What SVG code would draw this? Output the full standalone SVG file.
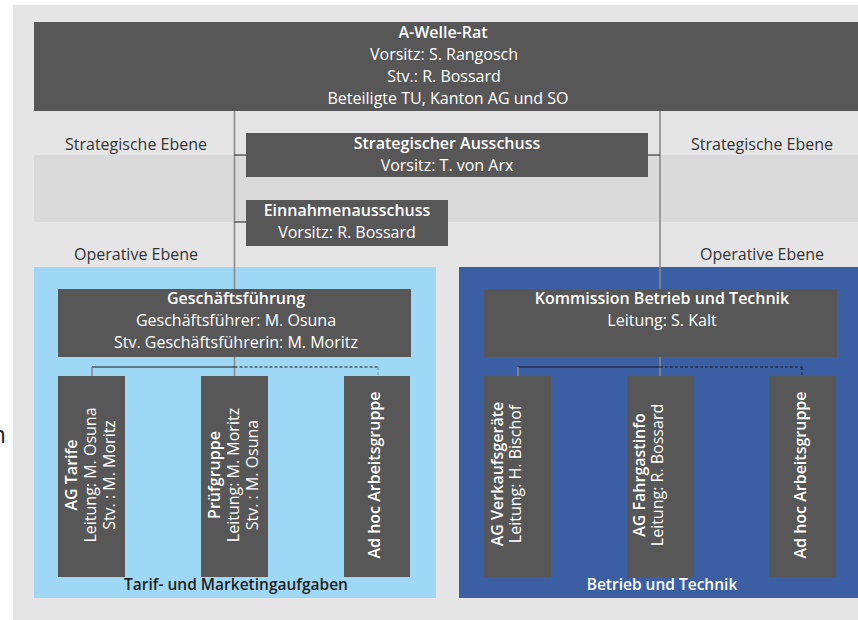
<svg xmlns="http://www.w3.org/2000/svg" width="858" height="620" viewBox="0 0 858 620">
<style>
text{font-family:"Open Sans","Noto Sans","DejaVu Sans",sans-serif;font-size:16px}
.w{fill:#ffffff}
.b{font-weight:600}
.lbl{fill:#333333;text-anchor:middle}
.box{fill:#575757}
.c{text-anchor:middle}
.vl{stroke:#8a8a8a;stroke-width:1.6;fill:none}
.hl{stroke:#1a1a1a;stroke-width:1;fill:none}
.dl{stroke:#1a1a1a;stroke-width:1;fill:none;stroke-dasharray:3 2}
</style>
<rect x="0" y="0" width="858" height="620" fill="#ffffff"/>
<rect x="13" y="5" width="845" height="615" fill="#e5e5e5"/>
<rect x="34" y="155" width="824" height="67" fill="#dadada"/>
<text x="6" y="443" style="font-size:24px;text-anchor:end" fill="#222222">n</text>

<g id="levels">
<text class="lbl" x="136" y="150">Strategische Ebene</text>
<text class="lbl" x="762" y="150">Strategische Ebene</text>
<text class="lbl" x="136" y="260">Operative Ebene</text>
<text class="lbl" x="762" y="260">Operative Ebene</text>
</g>

<g id="panel-tarif">
<rect x="34" y="267" width="402" height="331" fill="#9fd8f4"/>
<text class="c b" x="236" y="590" fill="#222222" style="font-size:15.5px">Tarif- und Marketingaufgaben</text>
</g>
<g id="panel-betrieb">
<rect x="459" y="267" width="399" height="331" fill="#3b5fa2"/>
<text class="c b w" x="662" y="590" style="font-size:15.5px">Betrieb und Technik</text>
</g>

<g id="connectors">
<line class="vl" x1="234.5" y1="111" x2="234.5" y2="289"/>
<line class="vl" x1="660" y1="111" x2="660" y2="289"/>
<line class="hl" x1="234.5" y1="155" x2="246" y2="155"/>
<line class="hl" x1="648" y1="155" x2="660" y2="155"/>
<line class="hl" x1="234.5" y1="222" x2="246" y2="222"/>
<line class="vl" x1="234.5" y1="357" x2="234.5" y2="376"/>
<line class="hl" x1="92" y1="367" x2="234.5" y2="367"/>
<line class="dl" x1="234.5" y1="367" x2="378" y2="367"/>
<line class="vl" x1="92" y1="367" x2="92" y2="376"/>
<line class="dl" x1="378" y1="367" x2="378" y2="376" style="stroke:#6a8aa0"/>
<line class="vl" x1="660" y1="357" x2="660" y2="376"/>
<line class="hl" x1="518" y1="367" x2="660" y2="367"/>
<line class="dl" x1="660" y1="367" x2="802" y2="367"/>
<line class="vl" x1="518" y1="367" x2="518" y2="376"/>
<line class="dl" x1="802" y1="367" x2="802" y2="376"/>
</g>

<g id="rat">
<rect class="box" x="34" y="22" width="824" height="89"/>
<text class="c w b" x="443" y="38">A-Welle-Rat</text>
<text class="c w" x="444" y="60">Vorsitz: S. Rangosch</text>
<text class="c w" x="444" y="82">Stv.: R. Bossard</text>
<text class="c w" x="448" y="104">Beteiligte TU, Kanton AG und SO</text>
</g>

<g id="strat-ausschuss">
<rect class="box" x="246" y="133" width="402" height="44"/>
<text class="c w b" x="447" y="149">Strategischer Ausschuss</text>
<text class="c w" x="447" y="171">Vorsitz: T. von Arx</text>
</g>

<g id="einnahmen">
<rect class="box" x="246" y="200" width="202" height="46"/>
<text class="c w b" x="347" y="216">Einnahmenausschuss</text>
<text class="c w" x="347" y="238">Vorsitz: R. Bossard</text>
</g>

<g id="gf">
<rect class="box" x="58" y="289" width="353" height="68"/>
<text class="c w b" x="236" y="304">Geschäftsführung</text>
<text class="c w" x="236" y="326">Geschäftsführer: M. Osuna</text>
<text class="c w" x="236" y="348">Stv. Geschäftsführerin: M. Moritz</text>
</g>

<g id="kbt">
<rect class="box" x="484" y="289" width="353" height="68"/>
<text class="c w b" x="662" y="304">Kommission Betrieb und Technik</text>
<text class="c w" x="662" y="326">Leitung: S. Kalt</text>
</g>

<g id="ag-tarife">
<rect class="box" x="58" y="376" width="67" height="201"/>
<g transform="translate(91.5,475) rotate(-90)">
<text class="c w b" x="0" y="-14.5">AG Tarife</text>
<text class="c w" x="0" y="4.5">Leitung: M. Osuna</text>
<text class="c w" x="0" y="23.5">Stv. : M. Moritz</text>
</g>
</g>

<g id="pruefgruppe">
<rect class="box" x="201" y="376" width="67" height="201"/>
<g transform="translate(234.5,475) rotate(-90)">
<text class="c w b" x="0" y="-14.5">Prüfgruppe</text>
<text class="c w" x="0" y="4.5">Leitung: M. Moritz</text>
<text class="c w" x="0" y="23.5">Stv. : M. Osuna</text>
</g>
</g>

<g id="adhoc-tarif">
<rect class="box" x="344" y="376" width="66" height="201"/>
<g transform="translate(377,475) rotate(-90)">
<text class="c w b" x="0" y="3">Ad hoc Arbeitsgruppe</text>
</g>
</g>

<g id="ag-verkauf">
<rect class="box" x="484" y="376" width="67" height="201"/>
<g transform="translate(517.5,474) rotate(-90)">
<text class="c w b" x="0" y="-15">AG Verkaufsgeräte</text>
<text class="c w" x="0" y="3">Leitung: H. Bischof</text>
</g>
</g>

<g id="ag-fahrgast">
<rect class="box" x="627" y="376" width="67" height="201"/>
<g transform="translate(660.5,475) rotate(-90)">
<text class="c w b" x="0" y="-16">AG Fahrgastinfo</text>
<text class="c w" x="0" y="2.5">Leitung: R. Bossard</text>
</g>
</g>

<g id="adhoc-betrieb">
<rect class="box" x="769" y="376" width="67" height="201"/>
<g transform="translate(802.5,475) rotate(-90)">
<text class="c w b" x="0" y="3">Ad hoc Arbeitsgruppe</text>
</g>
</g>
</svg>
